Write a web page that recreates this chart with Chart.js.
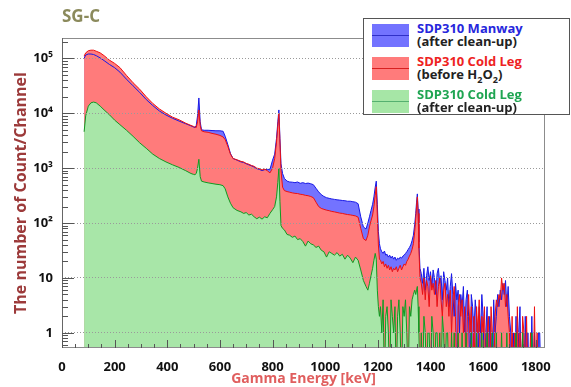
<!DOCTYPE html>
<html>
<head>
<meta charset="utf-8">
<script src="https://cdn.jsdelivr.net/npm/chart.js@4.4.1/dist/chart.umd.min.js"></script>
<style>
  body { margin: 0; background: #fff; }
  #wrap { position: relative; width: 571px; height: 387px; }
  .legend {
    position: absolute; left: 363px; top: 18px; width: 205px; height: 95px;
    border: 1px solid #555; background: #fff;
    font-family: "Open Sans", sans-serif; font-weight: 700; font-size: 13px;
  }
  .entry { position: absolute; left: 0; width: 100%; height: 26px; }
  .swatch { position: absolute; left: 8px; top: 0; width: 37px; height: 23px; }
  .swatch div { position: absolute; left: 0; right: 0; top: 11px; height: 1px; }
  .txt { position: absolute; left: 53px; top: -2px; line-height: 13px; white-space: nowrap; }
  .txt .second { color: #222; }
  .txt sub { font-size: 9px; line-height: 0; }
</style>
</head>
<body>
<div id="wrap">
  <canvas id="myChart" width="571" height="387"></canvas>
  <div class="legend">
    <div class="entry" style="top:5px">
      <div class="swatch" style="background:#7373ff"><div style="background:#3030c8"></div></div>
      <div class="txt"><span style="color:#2626dc">SDP310 Manway</span><br><span class="second">(after clean-up)</span></div>
    </div>
    <div class="entry" style="top:38px">
      <div class="swatch" style="background:#ff7b7b"><div style="background:#d82020"></div></div>
      <div class="txt"><span style="color:#ee2222">SDP310 Cold Leg</span><br><span class="second">(before H<sub>2</sub>O<sub>2</sub>)</span></div>
    </div>
    <div class="entry" style="top:71px">
      <div class="swatch" style="background:#a6e6a6"><div style="background:#55b070"></div></div>
      <div class="txt"><span style="color:#1fa552">SDP310 Cold Leg</span><br><span class="second">(after clean-up)</span></div>
    </div>
  </div>
</div>
<script>
// energy of each channel group [keV]
const energies = [
  84, 90, 100, 110, 120, 130, 145, 160, 180, 200, 220, 245, 270, 295, 320, 345, 370, 395, 420, 445, 470, 490, 500,
  505, 510, 515, 520, 525, 530, 540, 555, 570, 585, 600, 612, 620, 630, 640, 650, 665, 680, 690, 700, 710,
  720, 730, 740, 750, 760, 770, 780, 790, 800, 808, 815, 820, 824, 828, 832, 838,
  845, 855, 865, 875, 885, 895, 905, 915, 925, 935, 945, 955, 965, 975, 985, 995, 1005, 1015, 1025, 1035,
  1045, 1055, 1065, 1075, 1085, 1095, 1105, 1115, 1125, 1135, 1145, 1155,
  1162, 1168, 1174, 1180, 1185, 1190, 1194, 1198, 1202, 1206,
  1210, 1215, 1220, 1225, 1230, 1235, 1240, 1245, 1250, 1255, 1260, 1265, 1270, 1275, 1280, 1285, 1290, 1295, 1300, 1305,
  1310, 1315, 1320, 1325, 1330, 1335, 1340,
  1344, 1347, 1350, 1353, 1356, 1360,
  1365, 1370, 1375, 1380, 1385, 1390, 1395, 1400, 1405, 1410,
  1415, 1420, 1425, 1430, 1435, 1440, 1445, 1450, 1455, 1460,
  1465, 1470, 1475, 1480, 1485, 1490, 1495, 1500, 1505, 1510,
  1515, 1520, 1525, 1530, 1535, 1540, 1545, 1550, 1555, 1560,
  1565, 1570, 1575, 1580, 1585, 1590, 1595, 1600, 1605, 1610,
  1615, 1620, 1625, 1630, 1635, 1640, 1645, 1650, 1655, 1660,
  1665, 1670, 1675, 1680, 1685, 1690, 1695, 1700, 1705, 1710,
  1715, 1720, 1725, 1730, 1735, 1740, 1745, 1750, 1755, 1760,
  1765, 1770, 1775, 1780, 1785, 1790, 1795, 1800, 1805, 1810,
  1815, 1820
];

// SDP310 Manway (after clean-up)
const manway = [
  100000, 115000, 120000, 120000, 117500, 112000, 102000, 91000, 77600, 67600, 56200, 41700, 31600, 24000, 17800, 13800, 11000, 9300, 8100, 7200, 6450, 5900, 5600,
  5500, 6000, 9000, 19000, 7000, 5000, 4900, 4900, 4850, 4800, 4800, 4700, 3800, 2700, 1850, 1500, 1400, 1300, 1270, 1200, 1150,
  1100, 1050, 980, 950, 900, 940, 950, 950, 1400, 1800, 3500, 7000, 11500, 3500, 1200, 800,
  650, 580, 560, 555, 545, 560, 530, 545, 525, 535, 520, 500, 430, 370, 330, 305, 290, 282, 275, 270,
  265, 262, 258, 255, 250, 250, 245, 240, 225, 130, 85, 78,
  100, 130, 170, 220, 300, 450, 580, 220, 70, 42,
  34, 30, 28, 31, 26, 27, 24, 26, 23, 25, 22, 24, 21, 23, 22, 24, 23, 25, 26, 28,
  30, 33, 36, 40, 48, 60, 95,
  150, 240, 340, 180, 45, 15,
  12, 8, 15, 6, 11, 16, 9, 13, 7, 14,
  10, 5, 12, 15, 8, 11, 4, 13, 9, 6,
  10, 3, 7, 12, 5, 2, 8, 4, 6, 1,
  5, 3, 7, 1, 4, 6, 2, 0, 5, 3,
  1, 4, 2, 0, 3, 1, 5, 2, 0, 1,
  3, 0, 2, 1, 0, 4, 1, 2, 5, 3,
  6, 4, 8, 5, 9, 3, 7, 2, 1, 0,
  1, 0, 2, 0, 1, 3, 0, 1, 0, 2,
  0, 1, 0, 0, 2, 0, 1, 0, 0, 1,
  1, 0
];

// SDP310 Cold Leg (before H2O2)
const coldLegBefore = [
  110000, 126000, 138000, 141000, 141000, 135000, 126000, 112000, 93000, 81000, 68000, 49000, 36000, 27500, 20000, 15100, 12000, 10000, 8500, 7600, 6600, 6000, 5750,
  5600, 5500, 7000, 11500, 6000, 4800, 4600, 4500, 4300, 4150, 3950, 3700, 3300, 2500, 1800, 1500, 1420, 1330, 1300, 1220, 1180,
  1120, 1080, 1000, 980, 930, 960, 900, 820, 1000, 1500, 3000, 6000, 10000, 3000, 900, 450,
  390, 375, 365, 355, 348, 345, 335, 330, 320, 315, 305, 290, 240, 200, 185, 178, 172, 168, 163, 160,
  156, 152, 150, 146, 143, 141, 138, 135, 128, 80, 52, 48,
  60, 85, 110, 140, 200, 320, 460, 140, 40, 22,
  21, 18, 20, 16, 18, 15, 17, 14, 16, 13, 15, 14, 16, 13, 15, 17, 14, 16, 18, 17,
  20, 22, 25, 28, 33, 42, 70,
  120, 200, 300, 150, 35, 10,
  8, 5, 10, 4, 9, 7, 3, 11, 6, 8,
  5, 9, 3, 7, 10, 4, 2, 6, 8, 3,
  5, 2, 6, 1, 4, 7, 2, 0, 3, 5,
  2, 4, 1, 3, 0, 2, 5, 1, 3, 0,
  2, 0, 3, 1, 4, 0, 2, 1, 3, 0,
  1, 2, 0, 3, 1, 0, 2, 4, 3, 5,
  4, 10, 6, 8, 3, 5, 2, 1, 0, 2,
  0, 1, 0, 3, 0, 1, 0, 2, 1, 0,
  2, 0, 0, 1, 0, 0, 3, 0, 1, 0,
  0, 0
];

// SDP310 Cold Leg (after clean-up)
const coldLegAfter = [
  4600, 9000, 13500, 15500, 16000, 15500, 13500, 11500, 9400, 7500, 6200, 4900, 3800, 2900, 2300, 1800, 1500, 1300, 1150, 1030, 900, 800, 770,
  760, 800, 1000, 1450, 700, 580, 560, 540, 525, 510, 500, 480, 420, 300, 230, 190, 170, 160, 150, 155, 140,
  145, 130, 120, 128, 118, 130, 125, 150, 175, 200, 300, 550, 1000, 250, 90, 80,
  75, 62, 60, 55, 58, 50, 52, 46, 38, 47, 42, 40, 36, 38, 32, 30, 24, 30, 28, 26,
  29, 25, 27, 22, 26, 23, 19, 24, 21, 14, 9, 7,
  6, 8, 11, 15, 21, 28, 22, 6, 3, 2,
  3, 1, 4, 0, 2, 3, 1, 0, 4, 2, 1, 3, 0, 2, 4, 1, 0, 3, 2, 4,
  1, 0, 3, 2, 4, 5, 6,
  5, 6, 7, 3, 1, 0,
  1, 0, 2, 1, 0, 1, 1, 0, 2, 1,
  0, 1, 1, 0, 1, 0, 2, 1, 0, 1,
  1, 0, 0, 1, 0, 1, 0, 0, 1, 0,
  0, 1, 0, 0, 1, 0, 0, 0, 1, 0,
  0, 0, 1, 0, 0, 0, 1, 0, 0, 0,
  1, 0, 0, 0, 1, 0, 0, 1, 0, 0,
  0, 1, 0, 0, 0, 1, 0, 0, 0, 0,
  0, 0, 1, 0, 0, 0, 0, 1, 0, 0,
  0, 0, 0, 0, 1, 0, 0, 0, 0, 0,
  0, 0
];

const xTickValues = [0, 200, 400, 600, 800, 1000, 1200, 1400, 1600, 1800];
const xTickLabels = ["0", "200", "400", "600", "800", "1000", "1200", "1400", "1600", "1800"];
const yTickValues = [1, 10, 100, 1000, 10000, 100000];
const yTickLabels = ["1", "10", "10²", "10³", "10⁴", "10⁵"];

// empty channels cannot sit on a log axis, put them below the bottom edge
const ZERO_FLOOR = 0.1;
const toPoints = (vals) =>
  vals.map((v, i) => ({ x: energies[i], y: v > 0 ? v : ZERO_FLOOR }));

const tickFont = { family: "Open Sans", size: 13, weight: "bold" };

// ROOT style frame with inward tick marks
const frameTicks = {
  id: "frameTicks",
  afterDraw(chart) {
    const { ctx, chartArea: a, scales } = chart;
    const x = scales.x;
    const y = scales.y;
    ctx.save();
    ctx.lineWidth = 1;
    ctx.strokeStyle = "#8c8c8c";
    ctx.strokeRect(a.left + 0.5, a.top + 0.5, a.right - a.left - 1, a.bottom - a.top - 1);
    ctx.strokeStyle = "#666";
    ctx.beginPath();
    ctx.moveTo(a.left + 0.5, a.top);
    ctx.lineTo(a.left + 0.5, a.bottom);
    ctx.stroke();

    ctx.strokeStyle = "#555";
    ctx.beginPath();
    for (let e = 0; e <= 1800; e += 50) {
      const px = Math.round(x.getPixelForValue(e)) + 0.5;
      const len = e % 200 === 0 ? 8 : 4;
      ctx.moveTo(px, a.bottom);
      ctx.lineTo(px, a.bottom - len);
    }
    for (let d = -1; d <= 5; d++) {
      for (let k = 1; k <= 9; k++) {
        const v = k * Math.pow(10, d);
        if (v < y.min || v > y.max) continue;
        const py = Math.round(y.getPixelForValue(v)) + 0.5;
        ctx.moveTo(a.left, py);
        ctx.lineTo(a.left + (k === 1 ? 12 : 6), py);
      }
    }
    ctx.stroke();
    ctx.restore();
  },
};

const ctx = document.getElementById("myChart").getContext("2d");
new Chart(ctx, {
  type: "line",
  data: {
    datasets: [
      {
        label: "SDP310 Cold Leg (after clean-up)",
        data: toPoints(coldLegAfter),
        borderColor: "#109a22",
        backgroundColor: "#a8e6a8",
        borderWidth: 1,
        fill: "start",
      },
      {
        label: "SDP310 Cold Leg (before H2O2)",
        data: toPoints(coldLegBefore),
        borderColor: "#ee1010",
        backgroundColor: "#ff7b7b",
        borderWidth: 1,
        fill: "start",
      },
      {
        label: "SDP310 Manway (after clean-up)",
        data: toPoints(manway),
        borderColor: "#1818e6",
        backgroundColor: "#7373ff",
        borderWidth: 1,
        fill: "start",
      },
    ],
  },
  options: {
    responsive: false,
    animation: false,
    layout: { padding: { left: 0, right: 26, top: 0, bottom: 0 } },
    elements: { point: { radius: 0 }, line: { tension: 0 } },
    plugins: {
      legend: { display: false },
      tooltip: { enabled: false },
      filler: { drawTime: "beforeDatasetsDraw" },
      title: {
        display: true,
        text: "SG-C",
        align: "start",
        fullSize: false,
        color: "#8b8a5c",
        font: { family: "Open Sans", size: 17, weight: "bold" },
        padding: { top: 7, bottom: 10.6 },
      },
    },
    scales: {
      x: {
        type: "linear",
        min: 0,
        max: 1835,
        afterBuildTicks: (s) => {
          s.ticks = xTickValues.map((v) => ({ value: v }));
        },
        afterFit: (s) => {
          s.height = 39;
        },
        grid: { display: false },
        border: { display: false },
        ticks: {
          color: "#111",
          font: tickFont,
          padding: 3,
          maxRotation: 0,
          autoSkip: false,
          callback: (v, i) => xTickLabels[i],
        },
        title: {
          display: true,
          text: "Gamma Energy [keV]",
          color: "#e05e5e",
          font: { family: "Open Sans", size: 14, weight: "bold" },
          padding: { top: 0, bottom: 0 },
        },
      },
      y: {
        type: "logarithmic",
        min: 0.53,
        max: 235000,
        afterBuildTicks: (s) => {
          s.ticks = yTickValues.map((v) => ({ value: v }));
        },
        afterFit: (s) => {
          s.width = 62;
        },
        grid: { color: "#9a9a9a", drawTicks: false, z: 1 },
        border: { display: false, dash: [1, 2] },
        ticks: {
          color: "#111",
          font: tickFont,
          padding: 9,
          autoSkip: false,
          callback: (v, i) => yTickLabels[i],
        },
        title: {
          display: true,
          text: "The number of Count/Channel",
          color: "#9c3a3a",
          font: { family: "Open Sans", size: 16, weight: "bold" },
          padding: { top: 12, bottom: 0 },
        },
      },
    },
  },
  plugins: [frameTicks],
});
</script>
</body>
</html>
